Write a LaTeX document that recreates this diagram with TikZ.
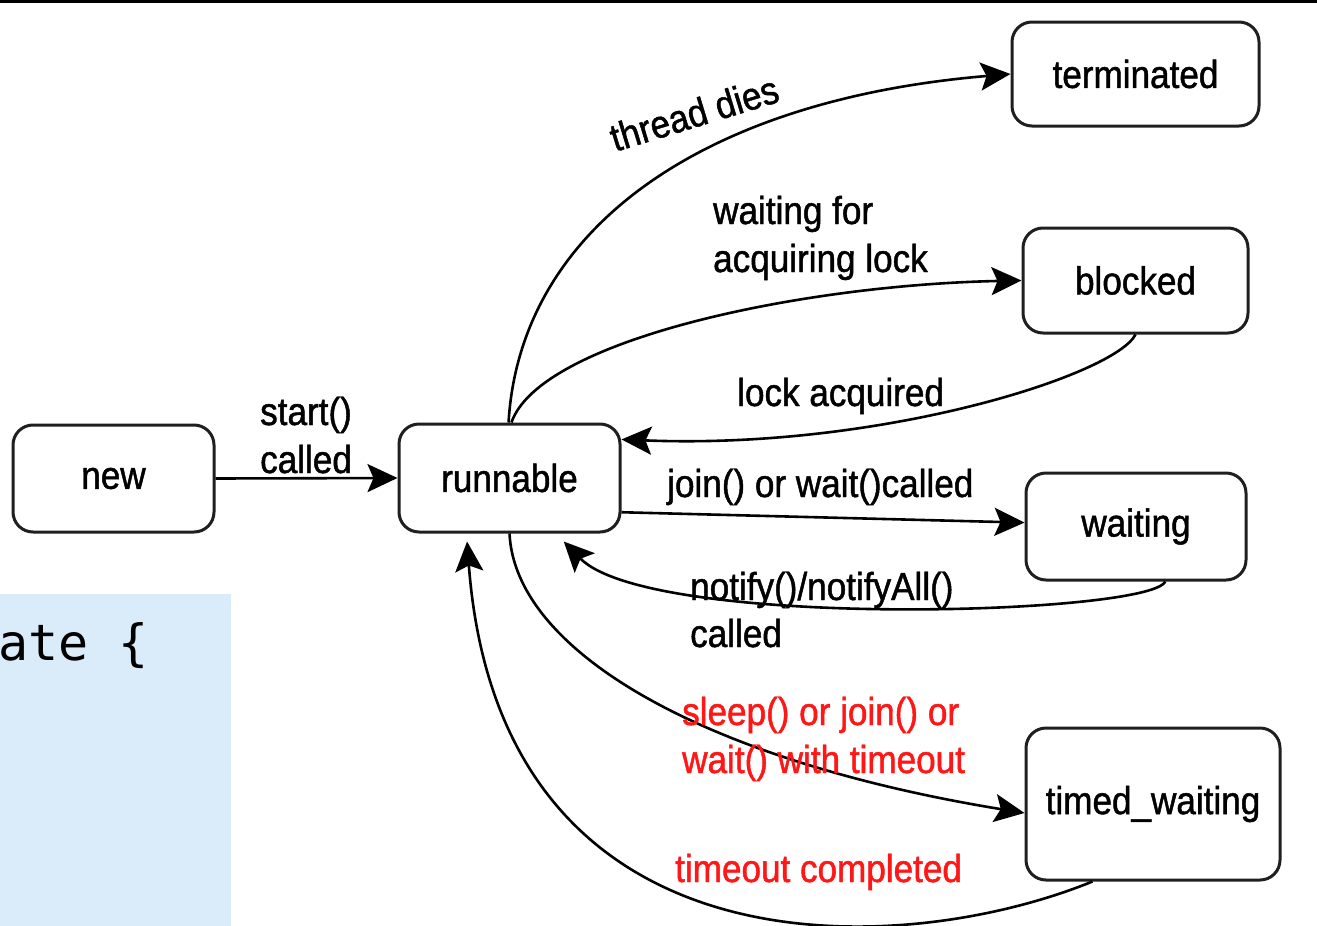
\documentclass[tikz,border=0pt]{standalone}
\usepackage{fontspec}
\setmainfont{Liberation Sans}[FakeStretch=0.9,FakeBold=1.2]
\newfontfamily\codefont{DejaVu Sans Mono}
\usetikzlibrary{arrows.meta}
\definecolor{codebg}{RGB}{218,235,250}
\definecolor{edgered}{RGB}{255,22,22}
\begin{document}
\begin{tikzpicture}[x=1pt,y=-1pt,
  state/.style={draw=black!88, line width=3pt, rounded corners=20pt,
    inner sep=0pt, font=\fontsize{39}{46}\selectfont},
  trans/.style={line width=2.6pt, draw=black,
    -{Stealth[length=30pt,width=28pt,inset=6pt]}},
  lbl/.style={anchor=base west, inner sep=0pt, align=left,
    font=\fontsize{39}{48}\selectfont},
  redlbl/.style={lbl, text=edgered}]
\useasboundingbox (0,0) rectangle (1317,926);

% rule along the top edge
\draw[line width=3pt] (0,1.5) -- (1317,1.5);

% shaded code fragment
\fill[codebg] (0,594) rectangle (231,926);
\node[anchor=base west, inner sep=0pt,
  font=\codefont\fontsize{50}{60}\selectfont] (code) at (-2,660) {ate \{};

% states
\node[state, minimum width=201pt, minimum height=107pt] (new) at (113.5,478.5) {new};
\node[state, minimum width=221pt, minimum height=108pt] (runnable) at (509.5,478) {runnable};
\node[state, minimum width=247pt, minimum height=104pt] (terminated) at (1135.5,74) {terminated};
\node[state, minimum width=225pt, minimum height=105pt] (blocked) at (1135.5,280.5) {blocked};
\node[state, minimum width=220pt, minimum height=107pt] (waiting) at (1136,526.5) {waiting};
\node[state, minimum width=254pt, minimum height=152pt] (timed) at (1153,804) {timed\_waiting};

% transitions
\draw[trans] (new.east) -- (runnable.west);
\draw[trans] (runnable.91) .. controls (520,230) and (700,100) .. (terminated.west);
\draw[trans] (runnable.88) .. controls (540,340) and (800,285) .. (blocked.west);
\draw[trans] (blocked.south) .. controls (1115,375) and (880,450) .. (runnable.19);
\draw[trans] (runnable.-17) -- (waiting.178);
\draw[trans] (waiting.298) .. controls (1150,615) and (650,630) .. ([shift={(6,8)}]runnable.-49);
\draw[trans] (runnable.south) .. controls (515,650) and (700,760) .. (timed.184);
\draw[trans] (timed.232) .. controls (900,960) and (500,980) .. ([shift={(-5,8)}]runnable.236);

% transition labels (multi-line labels sit on the baseline of their last line)
\node[lbl] (l-start) at (260,473) {start()\\called};
\node[lbl, rotate=17] (l-dies) at (615,152) {thread dies};
\node[lbl] (l-lockwait) at (713,272) {waiting for\\acquiring lock};
\node[lbl] (l-lockgot) at (737,406) {lock acquired};
\node[lbl] (l-join) at (667,497) {join() or wait()called};
\node[lbl, font=\fontsize{39}{47}\selectfont] (l-notify) at (690,647) {notify()/notifyAll()\\called};
\node[redlbl] (l-sleep) at (682,773) {sleep() or join() or\\wait() with timeout};
\node[redlbl] (l-timeout) at (675,882) {timeout completed};
\end{tikzpicture}
\end{document}
